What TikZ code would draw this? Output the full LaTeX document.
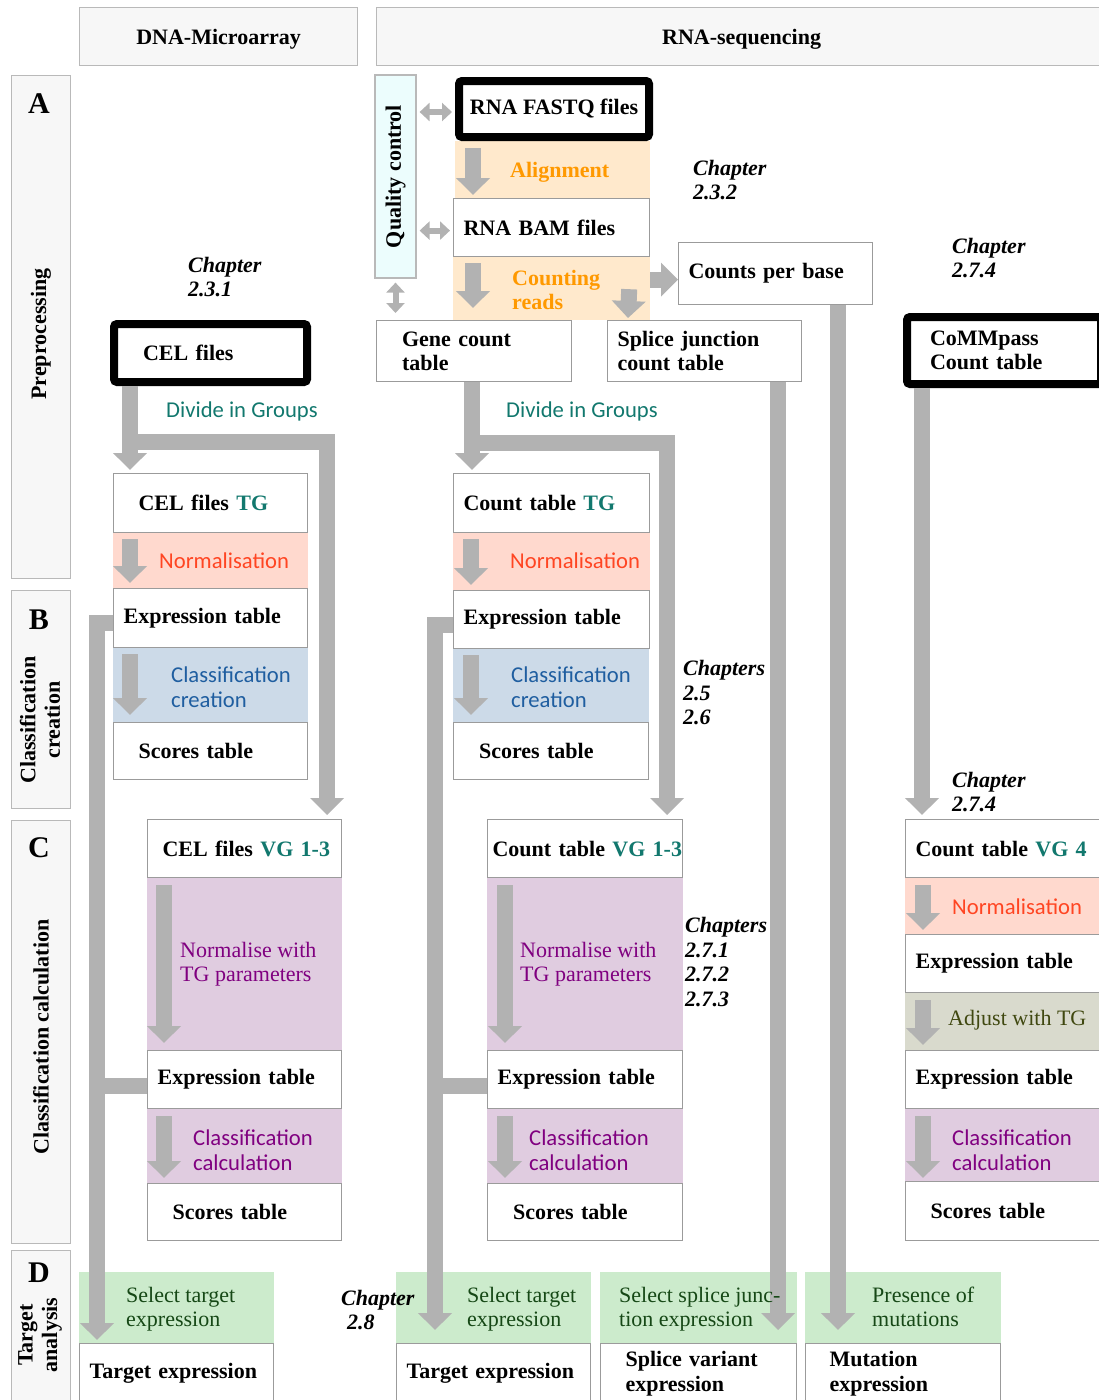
\documentclass[tikz,border=0pt]{standalone}
\usepackage{fontspec}
\setmainfont{Liberation Serif}
\newfontfamily\stepfont[Scale=1.03]{Carlito}
\usepackage{xcolor}
\usetikzlibrary{positioning}
\usetikzlibrary{arrows.meta}
\usetikzlibrary{backgrounds}

\definecolor{boxgray}{RGB}{155,155,155}
\definecolor{panelgray}{RGB}{185,185,185}
\definecolor{panelfill}{RGB}{247,247,247}
\definecolor{flowgray}{RGB}{178,178,178}
\definecolor{qcfill}{RGB}{236,253,253}
\definecolor{alignfill}{RGB}{255,233,204}
\definecolor{aligntext}{RGB}{255,153,0}
\definecolor{normfill}{RGB}{255,217,206}
\definecolor{normtext}{RGB}{255,69,34}
\definecolor{creafill}{RGB}{204,218,232}
\definecolor{creatext}{RGB}{31,94,160}
\definecolor{calcfill}{RGB}{224,204,224}
\definecolor{calctext}{RGB}{128,0,128}
\definecolor{adjfill}{RGB}{217,218,205}
\definecolor{adjtext}{RGB}{64,72,16}
\definecolor{selfill}{RGB}{204,235,204}
\definecolor{seltext}{RGB}{22,72,22}
\definecolor{groupteal}{RGB}{18,120,110}

\tikzset{
  box/.style={draw=boxgray, line width=1.2pt, fill=white, anchor=north west, align=left,
    inner xsep=10pt, inner ysep=0pt, minimum width=194pt, minimum height=58pt,
    text width=174pt, font=\bfseries},
  boxin/.style={box, inner xsep=25pt, text width=144pt},
  thickbox/.style={draw=black, line width=8pt, rounded corners=3pt, fill=white,
    anchor=north west, align=left, inner ysep=0pt, font=\bfseries},
  panel/.style={draw=panelgray, fill=panelfill, line width=1.2pt, anchor=north west, inner sep=0pt},
  letter/.style={font=\fontsize{30}{30}\selectfont\bfseries, inner sep=0pt},
  sidelabel/.style={rotate=90, font=\bfseries, align=center, inner sep=0pt},
  steptext/.style={anchor=west, align=left, inner sep=0pt},
  chapter/.style={anchor=west, align=left, inner sep=0pt, font=\bfseries\itshape},
  flow/.style={draw=flowgray, line width=16pt, -{Triangle[width=33pt,length=17pt]}},
  flowbar/.style={draw=flowgray, line width=16pt},
  qcarrow/.style={draw=flowgray, line width=6pt,
    {Triangle[width=18pt,length=10pt]}-{Triangle[width=18pt,length=10pt]}}
}

\begin{document}
\fontsize{22}{24.5}\selectfont
\begin{tikzpicture}[x=1pt, y=-1pt]
  \useasboundingbox (0,0) rectangle (1099,1400);

  % column heads and stage panels
  \node[panel, minimum width=278pt, minimum height=58pt, text depth=0pt, font=\bfseries] (hdDNA) at (79,7) {DNA-Microarray};
  \node[panel, minimum width=730pt, minimum height=58pt, text depth=0pt, font=\bfseries] (hdRNA) at (376,7) {RNA-sequencing};

  \node[panel, minimum width=59pt, minimum height=503pt] (panA) at (11,75) {};
  \node[panel, minimum width=59pt, minimum height=218pt] (panB) at (11,590) {};
  \node[panel, minimum width=59pt, minimum height=423pt] (panC) at (11,820) {};
  \node[panel, minimum width=59pt, minimum height=170pt] (panD) at (11,1250) {};
  \node[letter] (letA) at (39,104) {A};
  \node[letter] (letB) at (39,620) {B};
  \node[letter] (letC) at (39,848) {C};
  \node[letter] (letD) at (39,1273) {D};
  \node[sidelabel] (txtA) at (41,334) {Preprocessing};
  \node[sidelabel] (txtB) at (40,720) {Classification\\creation};
  \node[sidelabel] (txtC) at (41,1037) {Classification calculation};
  \node[sidelabel] (txtD) at (40,1335) {Target\\analysis};

  % preprocessing
  \node[draw=panelgray, fill=qcfill, line width=1.2pt, rotate=90, minimum width=203pt,
    minimum height=41pt, inner sep=0pt, font=\bfseries] (qc) at (395.5,176.5) {Quality control};
  \node[thickbox, minimum width=190pt, minimum height=56pt] (fastq) at (455,77) {RNA FASTQ files};
  \node[box, minimum width=196pt, text width=176pt] (bam) at (453,198) {RNA BAM files};
  \node[box, minimum height=62pt] (cpb) at (678,242) {Counts per base};
  \node[boxin, minimum width=195pt, minimum height=61pt] (genecount) at (376,320) {Gene count\\table};
  \node[box, minimum height=61pt] (splice) at (607,320) {Splice junction\\count table};
  \node[thickbox, minimum width=193pt, minimum height=58pt, inner xsep=29pt, text width=135pt] (cel) at (110,320) {CEL files};
  \node[thickbox, minimum width=194pt, minimum height=67pt, inner xsep=23pt, text width=148pt] (commpass) at (903,313) {CoMMpass\\Count table};

  \node[steptext, font=\bfseries, text=aligntext] (alignlbl) at (510,172) {Alignment};
  \node[steptext, font=\bfseries, text=aligntext] (countlbl) at (512,290) {Counting\\reads};
  \node[chapter] (chA) at (188,277) {Chapter\\2.3.1};
  \node[chapter] (chB) at (693,180) {Chapter\\2.3.2};
  \node[chapter] (chC) at (952,258) {Chapter\\2.7.4};
  \node[steptext, font=\stepfont, text=groupteal] (divA) at (166,411) {Divide in Groups};
  \node[steptext, font=\stepfont, text=groupteal] (divB) at (506,411) {Divide in Groups};

  % microarray column
  \node[boxin, minimum height=59pt] (celTG) at (113,473) {CEL files \textcolor{groupteal}{TG}};
  \node[box, minimum height=59pt] (exprTGa) at (113,588) {Expression table};
  \node[boxin, minimum height=57pt] (scoreTGa) at (113,722) {Scores table};
  \node[box, inner xsep=15pt, text width=164pt] (celVG) at (147,819) {\mbox{CEL files \textcolor{groupteal}{VG 1-3}}};
  \node[box] (exprVGa) at (147,1050) {Expression table};
  \node[boxin, minimum height=57pt] (scoreVGa) at (147,1183) {Scores table};

  \node[steptext, font=\stepfont, text=normtext] (normTGa) at (159,561) {Normalisation};
  \node[steptext, font=\stepfont, text=creatext] (creaTGa) at (171,687) {Classification\\creation};
  \node[steptext, text=calctext] (normVGa) at (180,964) {Normalise with\\TG parameters};
  \node[steptext, font=\stepfont, text=calctext] (calcVGa) at (193,1150) {Classification\\calculation};

  % sequencing column
  \node[box, minimum width=196pt, text width=176pt, minimum height=59pt] (countTG) at (453,473) {Count table \textcolor{groupteal}{TG}};
  \node[box, minimum width=196pt, text width=176pt] (exprTGb) at (453,590) {Expression table};
  \node[boxin, minimum width=195pt, minimum height=57pt] (scoreTGb) at (453,722) {Scores table};
  \node[box, minimum width=195pt, inner xsep=5pt, text width=185pt] (countVG) at (487,819) {\mbox{Count table \textcolor{groupteal}{VG 1-3}}};
  \node[box, minimum width=195pt, text width=175pt] (exprVGb) at (487,1050) {Expression table};
  \node[boxin, minimum width=195pt, minimum height=57pt] (scoreVGb) at (487,1183) {Scores table};

  \node[steptext, font=\stepfont, text=normtext] (normTGb) at (510,561) {Normalisation};
  \node[steptext, font=\stepfont, text=creatext] (creaTGb) at (511,687) {Classification\\creation};
  \node[steptext, text=calctext] (normVGb) at (520,964) {Normalise with\\TG parameters};
  \node[steptext, font=\stepfont, text=calctext] (calcVGb) at (529,1150) {Classification\\calculation};
  \node[chapter] (chD) at (683,693) {Chapters\\2.5\\2.6};
  \node[chapter] (chE) at (685,962) {Chapters\\2.7.1\\2.7.2\\2.7.3};

  % CoMMpass column
  \node[box] (countVG4) at (905,819) {Count table \textcolor{groupteal}{VG 4}};
  \node[box] (exprVG4a) at (905,934) {Expression table};
  \node[box] (exprVG4b) at (905,1050) {Expression table};
  \node[boxin, minimum height=59pt] (scoreVG4) at (905,1181) {Scores table};
  \node[steptext, font=\stepfont, text=normtext] (normVG4) at (952,907) {Normalisation};
  \node[steptext, text=adjtext] (adjVG4) at (948,1020) {Adjust with TG};
  \node[steptext, font=\stepfont, text=calctext] (calcVG4) at (952,1150) {Classification\\calculation};
  \node[chapter] (chF) at (952,792) {Chapter\\2.7.4};

  % target analysis
  \node[box, minimum height=60pt] (targetA) at (79,1343) {Target expression};
  \node[box, minimum height=60pt] (targetB) at (396,1343) {Target expression};
  \node[boxin, minimum width=196pt, text width=146pt, minimum height=60pt] (splicevar) at (600,1343) {Splice variant\\expression};
  \node[boxin, minimum width=195pt, inner xsep=24pt, text width=147pt, minimum height=60pt] (mutation) at (805,1343) {Mutation\\expression};
  \node[chapter] (chG) at (341,1310) {Chapter\\\hspace*{6pt}2.8};

  % coloured steps between the boxes
  \begin{scope}[on background layer]
    \fill[alignfill] (fastq.south west) rectangle (bam.north east);
    \fill[alignfill] (bam.south west) rectangle (bam.east |- genecount.north);
    \fill[normfill] (celTG.south west) rectangle (exprTGa.north east);
    \fill[creafill] (exprTGa.south west) rectangle (scoreTGa.north east);
    \fill[calcfill] (celVG.south west) rectangle (exprVGa.north east);
    \fill[calcfill] (exprVGa.south west) rectangle (scoreVGa.north east);
    \fill[normfill] (countTG.south west) rectangle (exprTGb.north east);
    \fill[creafill] (exprTGb.south west) rectangle (scoreTGb.north east);
    \fill[calcfill] (countVG.south west) rectangle (exprVGb.north east);
    \fill[calcfill] (exprVGb.south west) rectangle (scoreVGb.north east);
    \fill[normfill] (countVG4.south west) rectangle (exprVG4a.north east);
    \fill[adjfill] (exprVG4a.south west) rectangle (exprVG4b.north east);
    \fill[calcfill] (exprVG4b.south west) rectangle (scoreVG4.north east);
    \fill[selfill] ([yshift=71pt]targetA.north west) rectangle (targetA.north east);
    \fill[selfill] ([yshift=71pt]targetB.north west) rectangle (targetB.north east);
    \fill[selfill] ([yshift=71pt]splicevar.north west) rectangle (splicevar.north east);
    \fill[selfill] ([yshift=71pt]mutation.north west) rectangle (mutation.north east);
  \end{scope}

  % quality control
  \draw[qcarrow] ([xshift=3pt,yshift=-3pt]qc.south |- fastq.west) -- ([xshift=-3pt,yshift=-3pt]fastq.west);
  \draw[qcarrow] ([xshift=3pt,yshift=-3pt]qc.south |- bam.west) -- ([xshift=-3pt,yshift=-3pt]bam.west);
  \draw[qcarrow] ([yshift=-4pt]qc.west) -- ([yshift=7pt]qc.west |- genecount.north);

  % preprocessing flow
  \draw[flow] ([xshift=18pt,yshift=-7pt]fastq.south west) -- ([xshift=20pt,yshift=3pt]bam.north west);
  \draw[flow] ([xshift=20pt,yshift=-6pt]bam.south west) -- ([xshift=97pt,yshift=12pt]genecount.north west);
  \draw[flow] ([xshift=-21pt,yshift=-32pt]bam.south east) -- ([xshift=21pt,yshift=2pt]splice.north west);
  \draw[flow] ([yshift=-6pt]bam.east |- cpb.west) -- ([yshift=-6pt]cpb.west);

  % microarray flow
  \coordinate (splitA) at ([xshift=20pt,yshift=-56pt]cel.south west);
  \draw[flow] (cel.south -| splitA) -- ([xshift=17pt,yshift=3pt]celTG.north west);
  \draw[flow] (splitA) -| ([xshift=-15pt,yshift=4pt]celVG.north east);
  \draw[flow] ([xshift=17pt,yshift=-6pt]celTG.south west) -- ([xshift=17pt,yshift=5pt]exprTGa.north west);
  \draw[flow] ([xshift=17pt,yshift=-6pt]exprTGa.south west) -- ([xshift=17pt,yshift=7pt]scoreTGa.north west);
  \draw[flow] ([xshift=17pt,yshift=-7pt]celVG.south west) -- ([xshift=17pt,yshift=7pt]exprVGa.north west);
  \draw[flow] ([xshift=17pt,yshift=-7pt]exprVGa.south west) -- ([xshift=17pt,yshift=5pt]scoreVGa.north west);
  \coordinate (busA) at ([xshift=18pt,yshift=3pt]targetA.north west);
  \draw[flow] ([yshift=-5pt]exprTGa.west) -| (busA);
  \draw[flowbar] ([yshift=-6pt]exprVGa.west) -- ([yshift=-6pt]exprVGa.west -| busA);

  % sequencing flow
  \coordinate (splitB) at ([xshift=96pt,yshift=-61pt]genecount.south west);
  \draw[flow] (genecount.south -| splitB) -- ([xshift=19pt,yshift=3pt]countTG.north west);
  \draw[flow] (splitB) -| ([xshift=-16pt,yshift=4pt]countVG.north east);
  \draw[flow] ([xshift=18pt,yshift=-6pt]countTG.south west) -- ([xshift=18pt,yshift=5pt]exprTGb.north west);
  \draw[flow] ([xshift=18pt,yshift=-6pt]exprTGb.south west) -- ([xshift=18pt,yshift=7pt]scoreTGb.north west);
  \draw[flow] ([xshift=18pt,yshift=-7pt]countVG.south west) -- ([xshift=18pt,yshift=7pt]exprVGb.north west);
  \draw[flow] ([xshift=18pt,yshift=-7pt]exprVGb.south west) -- ([xshift=18pt,yshift=5pt]scoreVGb.north west);
  \coordinate (busB) at ([xshift=39pt,yshift=13pt]targetB.north west);
  \draw[flow] ([yshift=-5pt]exprTGb.west) -| (busB);
  \draw[flowbar] ([yshift=-6pt]exprVGb.west) -- ([yshift=-6pt]exprVGb.west -| busB);
  \coordinate (tipsplice) at ([xshift=-19pt,yshift=13pt]splicevar.north east);
  \draw[flow] (splice.south -| tipsplice) -- (tipsplice);
  \coordinate (tipcpb) at ([xshift=33pt,yshift=13pt]mutation.north west);
  \draw[flow] (cpb.south -| tipcpb) -- (tipcpb);

  % CoMMpass flow
  \coordinate (tipcomm) at ([xshift=17pt,yshift=4pt]countVG4.north west);
  \draw[flow] (commpass.south -| tipcomm) -- (tipcomm);
  \draw[flow] ([xshift=18pt,yshift=-7pt]countVG4.south west) -- ([xshift=18pt,yshift=4pt]exprVG4a.north west);
  \draw[flow] ([xshift=18pt,yshift=-7pt]exprVG4a.south west) -- ([xshift=18pt,yshift=5pt]exprVG4b.north west);
  \draw[flow] ([xshift=18pt,yshift=-7pt]exprVG4b.south west) -- ([xshift=18pt,yshift=3pt]scoreVG4.north west);

  % target analysis steps, over the arrows
  \node[steptext, text=seltext] (selA) at (126,1309) {Select target\\expression};
  \node[steptext, text=seltext] (selB) at (467,1309) {Select target\\expression};
  \node[steptext, text=seltext] (selC) at (619,1309) {Select splice junc-\\tion expression};
  \node[steptext, text=seltext] (selD) at (872,1307) {Presence of\\mutations};
\end{tikzpicture}
\end{document}
